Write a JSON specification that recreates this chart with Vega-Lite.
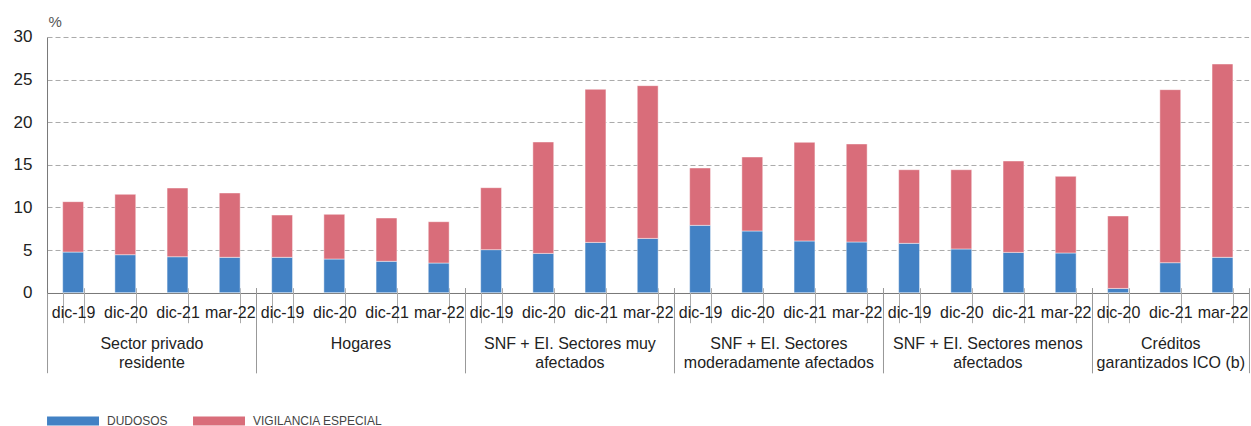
{
  "$schema": "https://vega.github.io/schema/vega-lite/v6.json",
  "padding": {"left": 5, "top": 15, "right": 0, "bottom": 0},
  "data": {"values": [
    {"group": "Sector privado|residente", "period": "dic-19", "series": "DUDOSOS", "value": 4.77},
    {"group": "Sector privado|residente", "period": "dic-19", "series": "VIGILANCIA ESPECIAL", "value": 5.91},
    {"group": "Sector privado|residente", "period": "dic-20", "series": "DUDOSOS", "value": 4.46},
    {"group": "Sector privado|residente", "period": "dic-20", "series": "VIGILANCIA ESPECIAL", "value": 7.08},
    {"group": "Sector privado|residente", "period": "dic-21", "series": "DUDOSOS", "value": 4.22},
    {"group": "Sector privado|residente", "period": "dic-21", "series": "VIGILANCIA ESPECIAL", "value": 8.06},
    {"group": "Sector privado|residente", "period": "mar-22", "series": "DUDOSOS", "value": 4.15},
    {"group": "Sector privado|residente", "period": "mar-22", "series": "VIGILANCIA ESPECIAL", "value": 7.55},
    {"group": "Hogares", "period": "dic-19", "series": "DUDOSOS", "value": 4.15},
    {"group": "Hogares", "period": "dic-19", "series": "VIGILANCIA ESPECIAL", "value": 4.96},
    {"group": "Hogares", "period": "dic-20", "series": "DUDOSOS", "value": 3.95},
    {"group": "Hogares", "period": "dic-20", "series": "VIGILANCIA ESPECIAL", "value": 5.24},
    {"group": "Hogares", "period": "dic-21", "series": "DUDOSOS", "value": 3.68},
    {"group": "Hogares", "period": "dic-21", "series": "VIGILANCIA ESPECIAL", "value": 5.08},
    {"group": "Hogares", "period": "mar-22", "series": "DUDOSOS", "value": 3.48},
    {"group": "Hogares", "period": "mar-22", "series": "VIGILANCIA ESPECIAL", "value": 4.85},
    {"group": "SNF + EI. Sectores muy|afectados", "period": "dic-19", "series": "DUDOSOS", "value": 5.05},
    {"group": "SNF + EI. Sectores muy|afectados", "period": "dic-19", "series": "VIGILANCIA ESPECIAL", "value": 7.27},
    {"group": "SNF + EI. Sectores muy|afectados", "period": "dic-20", "series": "DUDOSOS", "value": 4.61},
    {"group": "SNF + EI. Sectores muy|afectados", "period": "dic-20", "series": "VIGILANCIA ESPECIAL", "value": 13.07},
    {"group": "SNF + EI. Sectores muy|afectados", "period": "dic-21", "series": "DUDOSOS", "value": 5.90},
    {"group": "SNF + EI. Sectores muy|afectados", "period": "dic-21", "series": "VIGILANCIA ESPECIAL", "value": 17.96},
    {"group": "SNF + EI. Sectores muy|afectados", "period": "mar-22", "series": "DUDOSOS", "value": 6.37},
    {"group": "SNF + EI. Sectores muy|afectados", "period": "mar-22", "series": "VIGILANCIA ESPECIAL", "value": 17.92},
    {"group": "SNF + EI. Sectores|moderadamente afectados", "period": "dic-19", "series": "DUDOSOS", "value": 7.90},
    {"group": "SNF + EI. Sectores|moderadamente afectados", "period": "dic-19", "series": "VIGILANCIA ESPECIAL", "value": 6.73},
    {"group": "SNF + EI. Sectores|moderadamente afectados", "period": "dic-20", "series": "DUDOSOS", "value": 7.24},
    {"group": "SNF + EI. Sectores|moderadamente afectados", "period": "dic-20", "series": "VIGILANCIA ESPECIAL", "value": 8.68},
    {"group": "SNF + EI. Sectores|moderadamente afectados", "period": "dic-21", "series": "DUDOSOS", "value": 6.07},
    {"group": "SNF + EI. Sectores|moderadamente afectados", "period": "dic-21", "series": "VIGILANCIA ESPECIAL", "value": 11.57},
    {"group": "SNF + EI. Sectores|moderadamente afectados", "period": "mar-22", "series": "DUDOSOS", "value": 5.95},
    {"group": "SNF + EI. Sectores|moderadamente afectados", "period": "mar-22", "series": "VIGILANCIA ESPECIAL", "value": 11.50},
    {"group": "SNF + EI. Sectores menos|afectados", "period": "dic-19", "series": "DUDOSOS", "value": 5.79},
    {"group": "SNF + EI. Sectores menos|afectados", "period": "dic-19", "series": "VIGILANCIA ESPECIAL", "value": 8.64},
    {"group": "SNF + EI. Sectores menos|afectados", "period": "dic-20", "series": "DUDOSOS", "value": 5.13},
    {"group": "SNF + EI. Sectores menos|afectados", "period": "dic-20", "series": "VIGILANCIA ESPECIAL", "value": 9.30},
    {"group": "SNF + EI. Sectores menos|afectados", "period": "dic-21", "series": "DUDOSOS", "value": 4.73},
    {"group": "SNF + EI. Sectores menos|afectados", "period": "dic-21", "series": "VIGILANCIA ESPECIAL", "value": 10.72},
    {"group": "SNF + EI. Sectores menos|afectados", "period": "mar-22", "series": "DUDOSOS", "value": 4.66},
    {"group": "SNF + EI. Sectores menos|afectados", "period": "mar-22", "series": "VIGILANCIA ESPECIAL", "value": 8.99},
    {"group": "Créditos|garantizados ICO (b)", "period": "dic-20", "series": "DUDOSOS", "value": 0.50},
    {"group": "Créditos|garantizados ICO (b)", "period": "dic-20", "series": "VIGILANCIA ESPECIAL", "value": 8.50},
    {"group": "Créditos|garantizados ICO (b)", "period": "dic-21", "series": "DUDOSOS", "value": 3.52},
    {"group": "Créditos|garantizados ICO (b)", "period": "dic-21", "series": "VIGILANCIA ESPECIAL", "value": 20.30},
    {"group": "Créditos|garantizados ICO (b)", "period": "mar-22", "series": "DUDOSOS", "value": 4.15},
    {"group": "Créditos|garantizados ICO (b)", "period": "mar-22", "series": "VIGILANCIA ESPECIAL", "value": 22.68}
  ]},
  "resolve": {"scale": {"x": "independent", "y": "independent"}},
  "hconcat": [
    {
      "width": 208.8, "height": 255.7,
      "transform": [{"filter": {"field": "group", "equal": "Sector privado|residente"}}],
      "layer": [
        {"mark": {"type": "bar", "stroke": "#ffffff", "strokeWidth": 1, "strokeOpacity": 0.45},
         "encoding": {
           "x": {"field": "period", "type": "ordinal", "sort": null, "scale": {"paddingInner": 0.6, "paddingOuter": 0.3}, "axis": {"offset": -5, "domain": false, "tickBand": "extent", "tickSize": 35, "tickColor": "#aaaaaa", "labelExpr": "datum.value == null ? '' : datum.label", "labelPadding": -18, "labelAngle": 0, "labelBaseline": "top", "labelOverlap": false, "labelFlush": false, "labelBound": false, "title": null}},
           "y": {"field": "value", "type": "quantitative", "stack": "zero", "scale": {"domain": [0, 30]}, "axis": {"values": [0, 5, 10, 15, 20, 25, 30], "grid": true, "ticks": false, "domain": true, "domainColor": "#777777", "labelFontSize": 17, "labelPadding": 15, "minExtent": 42, "maxExtent": 42, "title": "%", "titleAngle": 0, "titleAlign": "left", "titleBaseline": "top", "titleX": 1, "titleY": -22, "titleFontSize": 15, "titleFontWeight": "normal", "titleColor": "#555555", "gridDash": {"condition": {"test": "datum.value === 0", "value": []}, "value": [5, 3]}, "gridColor": {"condition": {"test": "datum.value === 0", "value": "#777777"}, "value": "#aaaaaa"}}},
           "color": {"field": "series", "type": "nominal", "scale": {"domain": ["DUDOSOS", "VIGILANCIA ESPECIAL"], "range": ["#4281C4", "#D96D7A"]}, "legend": {"orient": "bottom", "direction": "horizontal", "title": null, "symbolType": "M-1,-0.17L1,-0.17L1,0.17L-1,0.17Z", "symbolSize": 2700, "symbolStrokeWidth": 0, "symbolOpacity": 1, "labelFontSize": 12, "labelColor": "#444444", "labelOffset": 8, "columnPadding": 25, "offset": 21}},
           "order": {"field": "series", "sort": "ascending"}
         }},
        {"mark": {"type": "rule", "opacity": 0},
         "encoding": {
           "x": {"field": "group", "type": "nominal", "scale": {"paddingInner": 0, "paddingOuter": 0}, "axis": {"orient": "bottom", "offset": -5, "domain": false, "tickBand": "extent", "tickSize": 85, "tickColor": "#999999", "labelExpr": "datum.value == null ? '' : split(datum.value, '|')", "labelLimit": 0, "labelPadding": -37, "labelBaseline": "top", "labelLineHeight": 19, "labelAngle": 0, "labelOverlap": false, "labelFlush": false, "labelBound": false, "title": null}}
         }}
      ],
      "resolve": {"scale": {"x": "independent"}}
    },
    {
      "width": 208.8, "height": 255.7,
      "transform": [{"filter": {"field": "group", "equal": "Hogares"}}],
      "layer": [
        {"mark": {"type": "bar", "stroke": "#ffffff", "strokeWidth": 1, "strokeOpacity": 0.45},
         "encoding": {
           "x": {"field": "period", "type": "ordinal", "sort": null, "scale": {"paddingInner": 0.6, "paddingOuter": 0.3}, "axis": {"offset": -5, "domain": false, "tickBand": "extent", "tickSize": 35, "tickColor": "#aaaaaa", "labelExpr": "datum.value == null ? '' : datum.label", "labelPadding": -18, "labelAngle": 0, "labelBaseline": "top", "labelOverlap": false, "labelFlush": false, "labelBound": false, "title": null}},
           "y": {"field": "value", "type": "quantitative", "stack": "zero", "scale": {"domain": [0, 30]}, "axis": {"values": [0, 5, 10, 15, 20, 25, 30], "grid": true, "ticks": false, "domain": false, "labels": false, "title": null, "gridDash": {"condition": {"test": "datum.value === 0", "value": []}, "value": [5, 3]}, "gridColor": {"condition": {"test": "datum.value === 0", "value": "#777777"}, "value": "#aaaaaa"}}},
           "color": {"field": "series", "type": "nominal", "scale": {"domain": ["DUDOSOS", "VIGILANCIA ESPECIAL"], "range": ["#4281C4", "#D96D7A"]}},
           "order": {"field": "series", "sort": "ascending"}
         }},
        {"mark": {"type": "rule", "opacity": 0},
         "encoding": {
           "x": {"field": "group", "type": "nominal", "scale": {"paddingInner": 0, "paddingOuter": 0}, "axis": {"orient": "bottom", "offset": -5, "domain": false, "tickBand": "extent", "tickSize": 85, "tickColor": "#999999", "labelExpr": "datum.value == null ? '' : split(datum.value, '|')", "labelLimit": 0, "labelPadding": -37, "labelBaseline": "top", "labelLineHeight": 19, "labelAngle": 0, "labelOverlap": false, "labelFlush": false, "labelBound": false, "title": null}}
         }}
      ],
      "resolve": {"scale": {"x": "independent"}}
    },
    {
      "width": 208.8, "height": 255.7,
      "transform": [{"filter": {"field": "group", "equal": "SNF + EI. Sectores muy|afectados"}}],
      "layer": [
        {"mark": {"type": "bar", "stroke": "#ffffff", "strokeWidth": 1, "strokeOpacity": 0.45},
         "encoding": {
           "x": {"field": "period", "type": "ordinal", "sort": null, "scale": {"paddingInner": 0.6, "paddingOuter": 0.3}, "axis": {"offset": -5, "domain": false, "tickBand": "extent", "tickSize": 35, "tickColor": "#aaaaaa", "labelExpr": "datum.value == null ? '' : datum.label", "labelPadding": -18, "labelAngle": 0, "labelBaseline": "top", "labelOverlap": false, "labelFlush": false, "labelBound": false, "title": null}},
           "y": {"field": "value", "type": "quantitative", "stack": "zero", "scale": {"domain": [0, 30]}, "axis": {"values": [0, 5, 10, 15, 20, 25, 30], "grid": true, "ticks": false, "domain": false, "labels": false, "title": null, "gridDash": {"condition": {"test": "datum.value === 0", "value": []}, "value": [5, 3]}, "gridColor": {"condition": {"test": "datum.value === 0", "value": "#777777"}, "value": "#aaaaaa"}}},
           "color": {"field": "series", "type": "nominal", "scale": {"domain": ["DUDOSOS", "VIGILANCIA ESPECIAL"], "range": ["#4281C4", "#D96D7A"]}},
           "order": {"field": "series", "sort": "ascending"}
         }},
        {"mark": {"type": "rule", "opacity": 0},
         "encoding": {
           "x": {"field": "group", "type": "nominal", "scale": {"paddingInner": 0, "paddingOuter": 0}, "axis": {"orient": "bottom", "offset": -5, "domain": false, "tickBand": "extent", "tickSize": 85, "tickColor": "#999999", "labelExpr": "datum.value == null ? '' : split(datum.value, '|')", "labelLimit": 0, "labelPadding": -37, "labelBaseline": "top", "labelLineHeight": 19, "labelAngle": 0, "labelOverlap": false, "labelFlush": false, "labelBound": false, "title": null}}
         }}
      ],
      "resolve": {"scale": {"x": "independent"}}
    },
    {
      "width": 208.8, "height": 255.7,
      "transform": [{"filter": {"field": "group", "equal": "SNF + EI. Sectores|moderadamente afectados"}}],
      "layer": [
        {"mark": {"type": "bar", "stroke": "#ffffff", "strokeWidth": 1, "strokeOpacity": 0.45},
         "encoding": {
           "x": {"field": "period", "type": "ordinal", "sort": null, "scale": {"paddingInner": 0.6, "paddingOuter": 0.3}, "axis": {"offset": -5, "domain": false, "tickBand": "extent", "tickSize": 35, "tickColor": "#aaaaaa", "labelExpr": "datum.value == null ? '' : datum.label", "labelPadding": -18, "labelAngle": 0, "labelBaseline": "top", "labelOverlap": false, "labelFlush": false, "labelBound": false, "title": null}},
           "y": {"field": "value", "type": "quantitative", "stack": "zero", "scale": {"domain": [0, 30]}, "axis": {"values": [0, 5, 10, 15, 20, 25, 30], "grid": true, "ticks": false, "domain": false, "labels": false, "title": null, "gridDash": {"condition": {"test": "datum.value === 0", "value": []}, "value": [5, 3]}, "gridColor": {"condition": {"test": "datum.value === 0", "value": "#777777"}, "value": "#aaaaaa"}}},
           "color": {"field": "series", "type": "nominal", "scale": {"domain": ["DUDOSOS", "VIGILANCIA ESPECIAL"], "range": ["#4281C4", "#D96D7A"]}},
           "order": {"field": "series", "sort": "ascending"}
         }},
        {"mark": {"type": "rule", "opacity": 0},
         "encoding": {
           "x": {"field": "group", "type": "nominal", "scale": {"paddingInner": 0, "paddingOuter": 0}, "axis": {"orient": "bottom", "offset": -5, "domain": false, "tickBand": "extent", "tickSize": 85, "tickColor": "#999999", "labelExpr": "datum.value == null ? '' : split(datum.value, '|')", "labelLimit": 0, "labelPadding": -37, "labelBaseline": "top", "labelLineHeight": 19, "labelAngle": 0, "labelOverlap": false, "labelFlush": false, "labelBound": false, "title": null}}
         }}
      ],
      "resolve": {"scale": {"x": "independent"}}
    },
    {
      "width": 208.8, "height": 255.7,
      "transform": [{"filter": {"field": "group", "equal": "SNF + EI. Sectores menos|afectados"}}],
      "layer": [
        {"mark": {"type": "bar", "stroke": "#ffffff", "strokeWidth": 1, "strokeOpacity": 0.45},
         "encoding": {
           "x": {"field": "period", "type": "ordinal", "sort": null, "scale": {"paddingInner": 0.6, "paddingOuter": 0.3}, "axis": {"offset": -5, "domain": false, "tickBand": "extent", "tickSize": 35, "tickColor": "#aaaaaa", "labelExpr": "datum.value == null ? '' : datum.label", "labelPadding": -18, "labelAngle": 0, "labelBaseline": "top", "labelOverlap": false, "labelFlush": false, "labelBound": false, "title": null}},
           "y": {"field": "value", "type": "quantitative", "stack": "zero", "scale": {"domain": [0, 30]}, "axis": {"values": [0, 5, 10, 15, 20, 25, 30], "grid": true, "ticks": false, "domain": false, "labels": false, "title": null, "gridDash": {"condition": {"test": "datum.value === 0", "value": []}, "value": [5, 3]}, "gridColor": {"condition": {"test": "datum.value === 0", "value": "#777777"}, "value": "#aaaaaa"}}},
           "color": {"field": "series", "type": "nominal", "scale": {"domain": ["DUDOSOS", "VIGILANCIA ESPECIAL"], "range": ["#4281C4", "#D96D7A"]}},
           "order": {"field": "series", "sort": "ascending"}
         }},
        {"mark": {"type": "rule", "opacity": 0},
         "encoding": {
           "x": {"field": "group", "type": "nominal", "scale": {"paddingInner": 0, "paddingOuter": 0}, "axis": {"orient": "bottom", "offset": -5, "domain": false, "tickBand": "extent", "tickSize": 85, "tickColor": "#999999", "labelExpr": "datum.value == null ? '' : split(datum.value, '|')", "labelLimit": 0, "labelPadding": -37, "labelBaseline": "top", "labelLineHeight": 19, "labelAngle": 0, "labelOverlap": false, "labelFlush": false, "labelBound": false, "title": null}}
         }}
      ],
      "resolve": {"scale": {"x": "independent"}}
    },
    {
      "width": 156.6, "height": 255.7,
      "transform": [{"filter": {"field": "group", "equal": "Créditos|garantizados ICO (b)"}}],
      "layer": [
        {"mark": {"type": "bar", "stroke": "#ffffff", "strokeWidth": 1, "strokeOpacity": 0.45},
         "encoding": {
           "x": {"field": "period", "type": "ordinal", "sort": null, "scale": {"paddingInner": 0.6, "paddingOuter": 0.3}, "axis": {"offset": -5, "domain": false, "tickBand": "extent", "tickSize": 35, "tickColor": "#aaaaaa", "labelExpr": "datum.value == null ? '' : datum.label", "labelPadding": -18, "labelAngle": 0, "labelBaseline": "top", "labelOverlap": false, "labelFlush": false, "labelBound": false, "title": null}},
           "y": {"field": "value", "type": "quantitative", "stack": "zero", "scale": {"domain": [0, 30]}, "axis": {"values": [0, 5, 10, 15, 20, 25, 30], "grid": true, "ticks": false, "domain": false, "labels": false, "title": null, "gridDash": {"condition": {"test": "datum.value === 0", "value": []}, "value": [5, 3]}, "gridColor": {"condition": {"test": "datum.value === 0", "value": "#777777"}, "value": "#aaaaaa"}}},
           "color": {"field": "series", "type": "nominal", "scale": {"domain": ["DUDOSOS", "VIGILANCIA ESPECIAL"], "range": ["#4281C4", "#D96D7A"]}},
           "order": {"field": "series", "sort": "ascending"}
         }},
        {"mark": {"type": "rule", "opacity": 0},
         "encoding": {
           "x": {"field": "group", "type": "nominal", "scale": {"paddingInner": 0, "paddingOuter": 0}, "axis": {"orient": "bottom", "offset": -5, "domain": false, "tickBand": "extent", "tickSize": 85, "tickColor": "#999999", "labelExpr": "datum.value == null ? '' : split(datum.value, '|')", "labelLimit": 0, "labelPadding": -37, "labelBaseline": "top", "labelLineHeight": 19, "labelAngle": 0, "labelOverlap": false, "labelFlush": false, "labelBound": false, "title": null}}
         }}
      ],
      "resolve": {"scale": {"x": "independent"}}
    }
  ],
  "spacing": 0,
  "bounds": "flush",
  "config": {
    "view": {"stroke": null},
    "font": "Liberation Sans",
    "axis": {"labelFont": "Liberation Sans", "labelFontSize": 16, "labelColor": "#222222", "titleFont": "Liberation Sans"},
    "legend": {"labelFont": "Liberation Sans"}
  }
}
